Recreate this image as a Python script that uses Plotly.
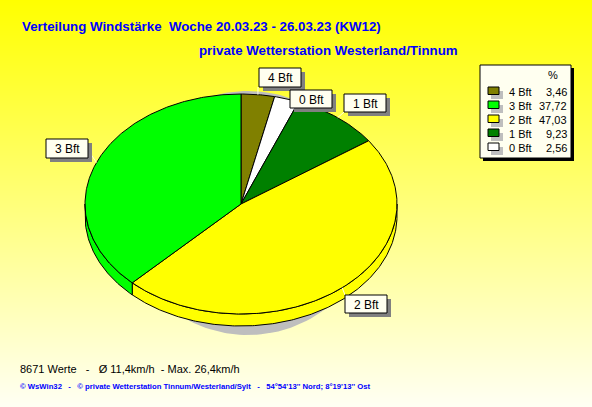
import numpy as np
import plotly.graph_objects as go

# data, clockwise from 12 o'clock
categories = ["4 Bft", "0 Bft", "1 Bft", "2 Bft", "3 Bft"]
percent = [3.46, 2.56, 9.23, 47.03, 37.72]
percent_labels = ["3,46", "2,56", "9,23", "47,03", "37,72"]
colors = ["#808000", "#FFFFFF", "#008000", "#FFFF00", "#00FF00"]
legend_order = ["4 Bft", "3 Bft", "2 Bft", "1 Bft", "0 Bft"]

title_1 = "Verteilung Windstärke\u00a0\u00a0Woche 20.03.23 - 26.03.23 (KW12)"
title_2 = "private Wetterstation Westerland/Tinnum"
stats = "8671 Werte\u00a0\u00a0\u00a0-\u00a0\u00a0\u00a0Ø 11,4km/h\u00a0\u00a0-\u00a0Max. 26,4km/h"
footer = ("© WsWin32\u00a0\u00a0\u00a0-\u00a0\u00a0\u00a0© private Wetterstation Tinnum/Westerland/Sylt"
          "\u00a0\u00a0\u00a0-\u00a0\u00a0\u00a054°54'13'' Nord; 8°19'13'' Ost")

# geometry of the projected pie
CX, CY, RX, RY, DEPTH = 241, 204, 156, 110, 12
label_boxes = {"4 Bft": (259, 68, 301, 87), "0 Bft": (290, 90, 332, 108),
               "1 Bft": (344, 94, 386, 112), "3 Bft": (46, 139, 88, 158),
               "2 Bft": (345, 295, 387, 313)}
leaders = {"4 Bft": (258, 87), "1 Bft": (344, 112), "2 Bft": (345, 295), "3 Bft": (88, 150)}


def arc(a0, a1, dy=0, n=None):
    n = n or max(2, int(abs(a1 - a0) * 1.5) + 2)
    t = np.radians(np.linspace(a0, a1, n))
    return CX + RX * np.sin(t), CY + dy - RY * np.cos(t)


fig = go.Figure()

# background gradient
fig.add_trace(go.Heatmap(x=[0, 592], y=[0, 407], z=[[0, 0], [1, 1]], zsmooth="best",
                         zmin=0, zmax=1, showscale=False, hoverinfo="skip",
                         colorscale=[[0, "#FFFF00"], [1, "#FFFFF4"]]))


def poly(x, y, fill, line="#000000", width=1):
    fig.add_trace(go.Scatter(x=x, y=y, mode="lines", fill="toself", fillcolor=fill,
                             line=dict(color=line, width=width), hoverinfo="skip",
                             showlegend=False))


# drop shadow of the pie
t = np.radians(np.linspace(0, 360, 181))
poly(248 + 125 * np.sin(t), 213 - 122 * np.cos(t), "#BEBEBE", "rgba(0,0,0,0)", 0)

edges = np.concatenate([[0], np.cumsum(percent)]) * 3.6

# side wall, visible on the lower half
for i, col in enumerate(colors):
    a0, a1 = max(edges[i], 90), min(edges[i + 1], 270)
    if a1 > a0:
        x0, y0 = arc(a0, a1)
        x1, y1 = arc(a1, a0, DEPTH)
        poly(np.r_[x0, x1, x0[0]], np.r_[y0, y1, y0[0]], col)

# top face
for i, col in enumerate(colors):
    x, y = arc(edges[i], edges[i + 1])
    poly(np.r_[CX, x, CX], np.r_[CY, y, CY], col)

shapes = []
annotations = []


def text(x, y, s, size=12, color="#000000", anchor="left", bold=False, family="Liberation Sans"):
    dx = {"left": -2, "right": 2, "center": 0}[anchor]
    annotations.append(dict(x=x + dx, y=y, xref="x", yref="y", text=f"<b>{s}</b>" if bold else s,
                            showarrow=False, xanchor=anchor, yanchor="middle",
                            font=dict(size=size, color=color, family=family)))


def rect(x0, y0, x1, y1, fill, line=None):
    shapes.append(dict(type="rect", xref="x", yref="y", x0=x0, y0=y0, x1=x1, y1=y1,
                       fillcolor=fill, layer="above",
                       line=dict(color=line or "rgba(0,0,0,0)", width=1 if line else 0)))


# data labels
for cat, (x0, y0, x1, y1) in label_boxes.items():
    i = categories.index(cat)
    mid = (edges[i] + edges[i + 1]) / 2
    px, py = arc(mid, mid, 0, 2)
    if cat in leaders:
        lx, ly = leaders[cat]
        shapes.append(dict(type="line", xref="x", yref="y", x0=px[0], y0=py[0], x1=lx, y1=ly,
                           layer="above", line=dict(color="#FFFFE0", width=1)))
    rect(x0 + 4, y0 + 4, x1 + 4, y1 + 4, "#808080")
    rect(x0, y0, x1, y1, "#FFFFF0", "#000000")
    text((x0 + x1) / 2, (y0 + y1) / 2 + 0.5, cat, 12, anchor="center")

# legend box
rect(483, 68, 574, 161, "#000000")
rect(480, 65, 571, 158, "#FFFFF0", "#000000")
text(553, 75, "%", 11, anchor="center")
for row, cat in enumerate(legend_order):
    i = categories.index(cat)
    y = 91 + row * 14
    rect(491, y, 503, y + 8, "#BEBEBE")
    rect(488, y - 4, 499, y + 3.5, colors[i], "#000000")
    text(509, y + 0.5, cat, 11)
    text(567, y + 0.5, percent_labels[i], 11, anchor="right")

# titles and footers
text(22, 26, title_1, 13.3, "#0000FF", bold=True)
text(199, 50, title_2, 13.3, "#0000FF", bold=True)
text(20, 369, stats, 11)
text(20, 386, footer, 7.7, "#0000FF", bold=True)

fig.update_layout(
    width=592, height=407, margin=dict(l=0, r=0, t=0, b=0),
    paper_bgcolor="#FFFF80", plot_bgcolor="rgba(0,0,0,0)", showlegend=False,
    xaxis=dict(range=[0, 592], visible=False, fixedrange=True),
    yaxis=dict(range=[407, 0], visible=False, fixedrange=True),
    shapes=shapes, annotations=annotations,
)
fig.write_html("out.html", config={"displayModeBar": False},
               post_script="document.body.style.margin='0';document.documentElement.style.overflow='hidden';")
